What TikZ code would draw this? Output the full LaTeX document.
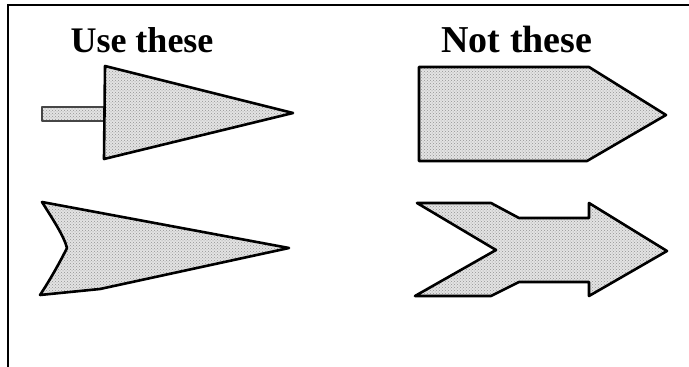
\documentclass[tikz,border=0pt]{standalone}
\usepackage{fontspec}
\setmainfont{Liberation Serif}
\usetikzlibrary{patterns}
\begin{document}
\begin{tikzpicture}[x=1pt,y=-1pt,
  frame/.style={line width=2.6pt},
  arrowshape/.style={draw=black, line width=2.6pt, line join=round,
     preaction={fill=gray!22}, pattern=crosshatch dots, pattern color=gray!85},
  title/.style={font=\bfseries\fontsize{36}{40}\selectfont, anchor=base, inner sep=0pt}]
\useasboundingbox (0,0) rectangle (689,367);
% frame
\draw[frame] (689,5) -- (8,5) -- (8,367);
% titles
\node[title] (use) at (142,52) {Use these};
\node[title, font=\bfseries\fontsize{38}{42}\selectfont] (not) at (517,52) {Not these};
% arrow 1: shaft + triangular head
\draw[arrowshape, line width=1.6pt, draw=gray!55!black] (42,107) -- (104,107) -- (104,121) -- (42,121) -- cycle;
\draw[arrowshape] (105,66) -- (293,113) -- (104,159) -- cycle;
% arrow 2: pentagon
\draw[arrowshape] (419,67) -- (589,67) -- (666,115) -- (587,161) -- (419,161) -- cycle;
% arrow 3: notched dart
\draw[arrowshape] (42,202) .. controls (52,218) and (64,236) .. (67,248)
  .. controls (60,262) and (50,280) .. (40,295) -- (100,289) -- (289,248) -- cycle;
% arrow 4: chevron arrow
\draw[arrowshape] (417,203) -- (491,203) -- (519,218) -- (589,218) -- (589,203)
  -- (667,251) -- (589,296) -- (589,282) -- (519,282) -- (491,296) -- (415,296)
  -- (496,250) -- cycle;
\end{tikzpicture}
\end{document}
